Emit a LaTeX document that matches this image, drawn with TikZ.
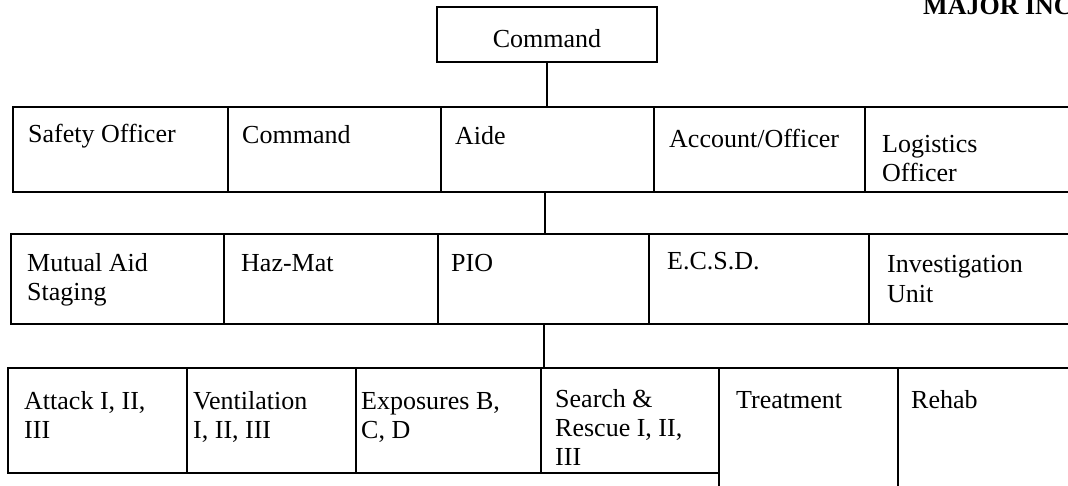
\documentclass[tikz,border=0pt]{standalone}
\usepackage{fontspec}
\setmainfont{Liberation Serif}
\newcommand\twolines[1]{\parbox[t]{300pt}{\raggedright #1}}
\begin{document}
\begin{tikzpicture}[x=1pt,y=-1pt,
  box/.style={draw, line width=2pt, inner sep=0pt, anchor=north west},
  conn/.style={draw, line width=2pt},
  txt/.style={anchor=base west, inner sep=0pt, font=\fontsize{26}{29}\selectfont},
]
\useasboundingbox (0,0) rectangle (1068,486);
\clip (0,0) rectangle (1068,486);

% title (cut off at the page edge)
\node[anchor=base west, inner sep=0pt, font=\fontsize{26}{29}\selectfont\bfseries] (title) at (923,15) {MAJOR INC};

% top command box
\node[box, minimum width=220pt, minimum height=55pt] (cmd) at (436,6) {};
\node[txt, anchor=base] (tcmd) at ([yshift=-42pt]cmd.north) {Command};

% row 1
\node[box, minimum width=215pt, minimum height=85pt] (safety) at (12,106) {};
\node[box, minimum width=213pt, minimum height=85pt] (command) at (227,106) {};
\node[box, minimum width=213pt, minimum height=85pt] (aide) at (440,106) {};
\node[box, minimum width=211pt, minimum height=85pt] (account) at (653,106) {};
\node[box, minimum width=230pt, minimum height=85pt] (logistics) at (864,106) {};
\node[txt] (tsafety) at ([shift={(16,37)}]safety.north west) {Safety Officer};
\node[txt] (tcommand) at ([shift={(15,38)}]command.north west) {Command};
\node[txt] (taide) at ([shift={(15,39)}]aide.north west) {Aide};
\node[txt] (taccount) at ([shift={(16,42)}]account.north west) {Account/Officer};
\node[txt] (tlogistics) at ([shift={(18,47)}]logistics.north west) {\twolines{Logistics\\Officer}};

% row 2
\node[box, minimum width=213pt, minimum height=90pt] (mutual) at (10,233) {};
\node[box, minimum width=214pt, minimum height=90pt] (hazmat) at (223,233) {};
\node[box, minimum width=211pt, minimum height=90pt] (pio) at (437,233) {};
\node[box, minimum width=220pt, minimum height=90pt] (ecsd) at (648,233) {};
\node[box, minimum width=230pt, minimum height=90pt] (invest) at (868,233) {};
\node[txt] (tmutual) at ([shift={(17,39)}]mutual.north west) {\twolines{Mutual Aid\\Staging}};
\node[txt] (thazmat) at ([shift={(18,39)}]hazmat.north west) {Haz-Mat};
\node[txt] (tpio) at ([shift={(14,39)}]pio.north west) {PIO};
\node[txt] (tecsd) at ([shift={(19,37)}]ecsd.north west) {E.C.S.D.};
\node[txt] (tinvest) at ([shift={(19,40)}]invest.north west) {\twolines{Investigation\\Unit}};

% row 3
\node[box, minimum width=179pt, minimum height=105pt] (attack) at (7,367) {};
\node[box, minimum width=169pt, minimum height=105pt] (vent) at (186,367) {};
\node[box, minimum width=185pt, minimum height=105pt] (expo) at (355,367) {};
\node[box, minimum width=178pt, minimum height=105pt] (search) at (540,367) {};
\node[box, minimum width=179pt, minimum height=140pt] (treat) at (718,367) {};
\node[box, minimum width=200pt, minimum height=140pt] (rehab) at (897,367) {};
\node[txt] (tattack) at ([shift={(17,42)}]attack.north west) {\twolines{Attack I, II,\\III}};
\node[txt] (tvent) at ([shift={(7,42)}]vent.north west) {\twolines{Ventilation\\I, II, III}};
\node[txt] (texpo) at ([shift={(6,42)}]expo.north west) {\twolines{Exposures B,\\C, D}};
\node[txt] (tsearch) at ([shift={(15,40)}]search.north west) {\twolines{Search \&\\Rescue I, II,\\III}};
\node[txt] (ttreat) at ([shift={(18,41)}]treat.north west) {Treatment};
\node[txt] (trehab) at ([shift={(14,41)}]rehab.north west) {Rehab};

% connectors
\draw[conn] (cmd.south) -- (cmd.south |- aide.north);
\draw[conn] ([xshift=-3pt]aide.south) -- ([xshift=-3pt]aide.south |- pio.north);
\draw[conn] (pio.south) -- (pio.south |- search.north);
\end{tikzpicture}
\end{document}
